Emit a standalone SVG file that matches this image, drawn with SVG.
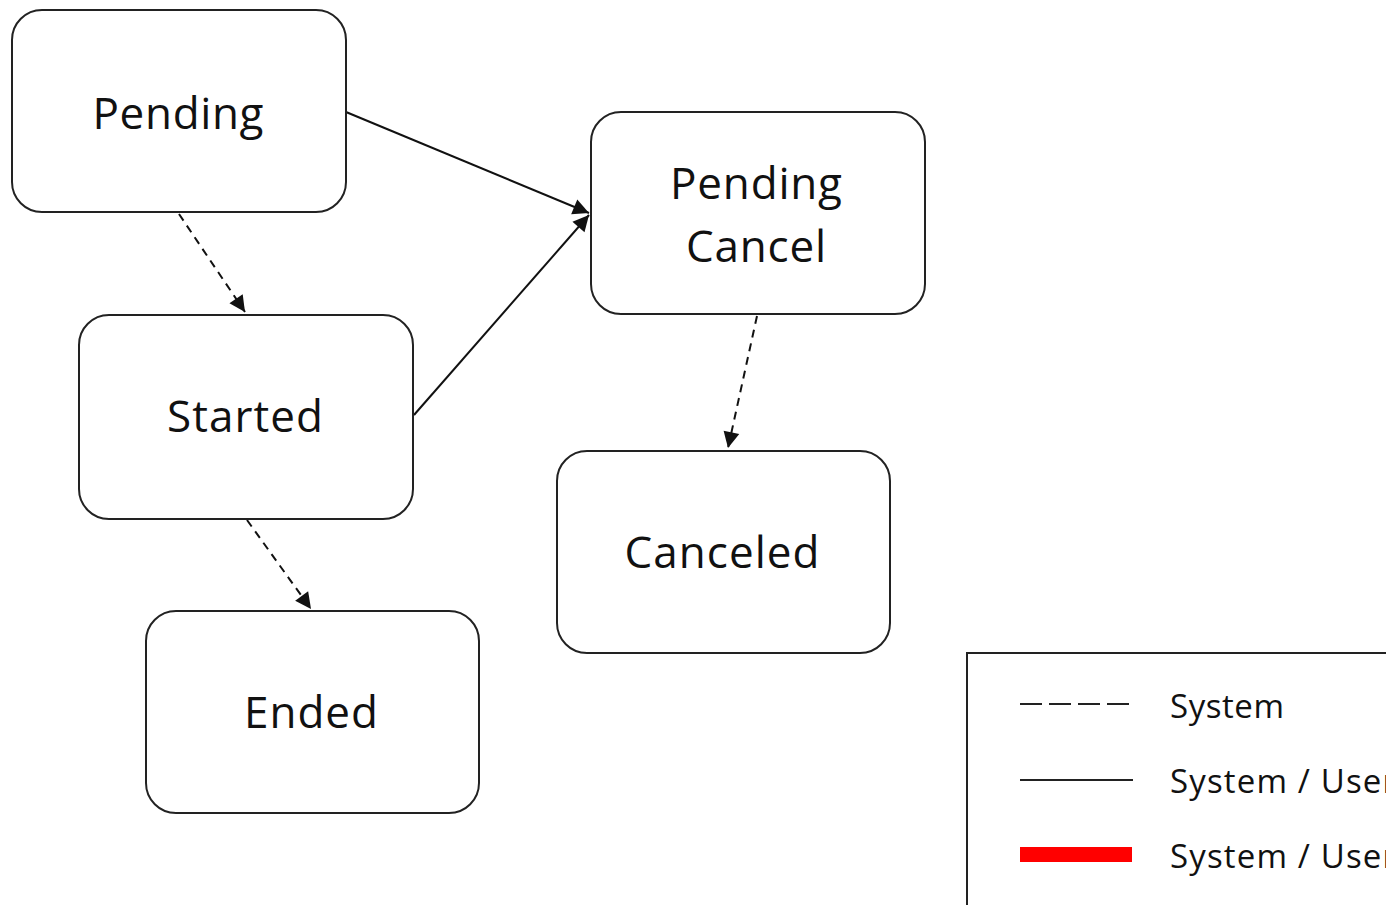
<svg xmlns="http://www.w3.org/2000/svg" width="1386" height="905" viewBox="0 0 1386 905">
<style>
.node rect{fill:#fff;stroke:#222;stroke-width:2}
.lbl{font-family:"Open Sans","Liberation Sans",sans-serif;font-size:44px;fill:#111;text-anchor:middle}
.leg{font-family:"Open Sans","Liberation Sans",sans-serif;font-size:33px;fill:#111}
.c{stroke:#111;stroke-width:2;fill:none}
.d{stroke-dasharray:8 6}
</style>
<defs>
<marker id="ah" viewBox="0 0 10 10" refX="10" refY="5" markerWidth="8" markerHeight="8" markerUnits="userSpaceOnUse" orient="auto" style="overflow:visible">
<path d="M0,0 L10,5 L0,10 z" fill="#111" transform="scale(2) translate(-5,-2.5)"/>
</marker>
</defs>
<rect width="1386" height="905" fill="#fff"/>
<g id="connectors">
<path class="c" d="M346,112 L589,213" marker-end="url(#ah)"/>
<path class="c" d="M414,415 L589,215" marker-end="url(#ah)"/>
<path class="c d" d="M179,214 L245,312" marker-end="url(#ah)"/>
<path class="c d" d="M247,520 L311,609" marker-end="url(#ah)"/>
<path class="c d" d="M757,316 L728,448" marker-end="url(#ah)"/>
</g>
<g id="pending" class="node"><rect x="12" y="10" width="334" height="202" rx="30"/><text class="lbl" x="178" y="129" textLength="171">Pending</text></g>
<g id="pending-cancel" class="node"><rect x="591" y="112" width="334" height="202" rx="30"/><text class="lbl" x="756" y="199" textLength="172">Pending</text><text class="lbl" x="756" y="262" textLength="140">Cancel</text></g>
<g id="started" class="node"><rect x="79" y="315" width="334" height="204" rx="30"/><text class="lbl" x="245" y="432" textLength="156">Started</text></g>
<g id="canceled" class="node"><rect x="557" y="451" width="333" height="202" rx="30"/><text class="lbl" x="722" y="568" textLength="195">Canceled</text></g>
<g id="ended" class="node"><rect x="146" y="611" width="333" height="202" rx="30"/><text class="lbl" x="311" y="728" textLength="134">Ended</text></g>
<g id="legend">
<rect x="967" y="653" width="440" height="270" fill="#fff" stroke="#222" stroke-width="2"/>
<line x1="1020" y1="704" x2="1131" y2="704" stroke="#222" stroke-width="2" stroke-dasharray="22 7"/>
<line x1="1020" y1="780" x2="1133" y2="780" stroke="#222" stroke-width="2"/>
<rect x="1020" y="847" width="112" height="15" fill="#f00"/>
<text class="leg" x="1170" y="718" textLength="114">System</text>
<text class="leg" x="1170" y="793" textLength="226">System / User</text>
<text class="leg" x="1170" y="868" textLength="226">System / User</text>
</g>
</svg>
